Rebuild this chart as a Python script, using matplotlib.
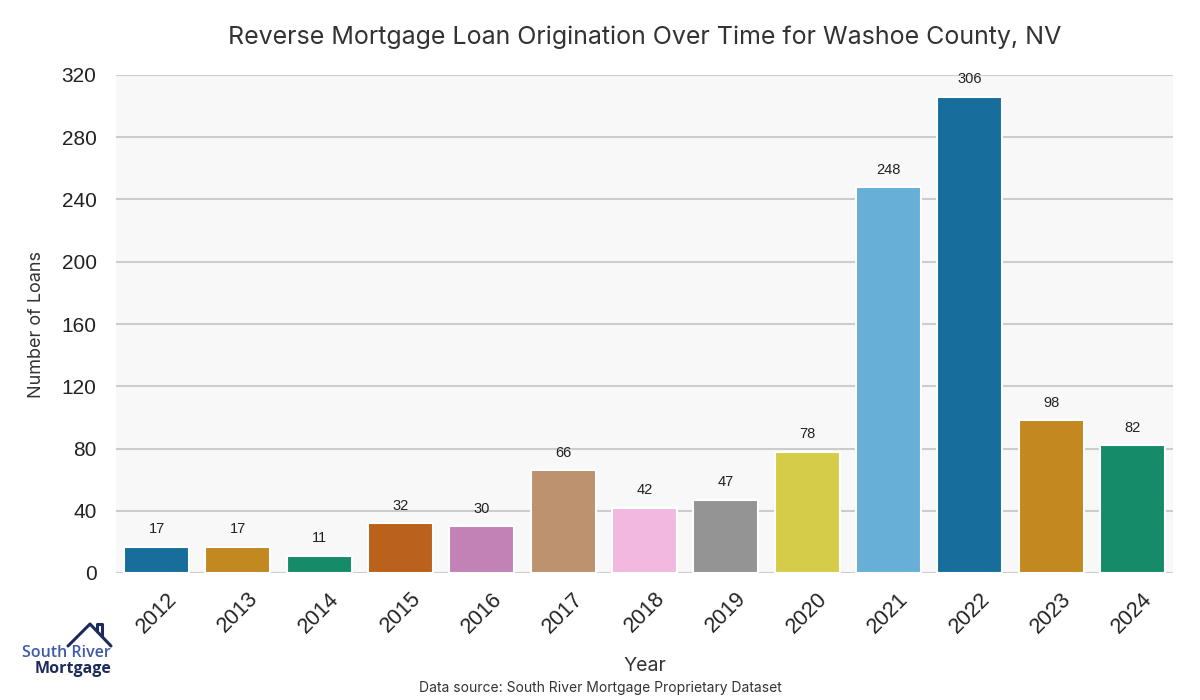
import matplotlib
matplotlib.use("Agg")
import matplotlib.pyplot as plt
import seaborn as sns
import pandas as pd

years = ["2012", "2013", "2014", "2015", "2016", "2017", "2018",
         "2019", "2020", "2021", "2022", "2023", "2024"]
loans = [17, 17, 11, 32, 30, 66, 42, 47, 78, 248, 306, 98, 82]
yticks = [0, 40, 80, 120, 160, 200, 240, 280, 320]

df = pd.DataFrame({"Year": years, "Loans": loans})

sns.set_style("whitegrid")
plt.rcParams["font.family"] = ["Liberation Sans", "DejaVu Sans"]

fig = plt.figure(figsize=(12, 7), dpi=100)
ax = fig.add_axes([116 / 1200, 1 - 573 / 700, (1173 - 116) / 1200, (573 - 75) / 700])
ax.set_facecolor("#f8f8f8")

sns.barplot(data=df, x="Year", y="Loans", hue="Year", palette="colorblind",
            legend=False, ax=ax, edgecolor="white", linewidth=1.5, width=0.8)

# value labels above each bar
for i, v in enumerate(loans):
    ax.annotate(str(v), (i, v), xytext=(0, 7.5), textcoords="offset points",
                ha="center", va="bottom", fontsize=10.5, color="#222222",
                annotation_clip=False)

ax.set_ylim(0, 320)
ax.set_xlim(-0.5, len(years) - 0.5)
ax.set_yticks(yticks)
ax.yaxis.grid(True, color="#cccccc", linewidth=1.5)
ax.xaxis.grid(False)
for s in ax.spines.values():
    s.set_visible(False)
ax.tick_params(axis="y", labelsize=15, colors="#222222", length=0, pad=14)
ax.tick_params(axis="x", labelsize=15.5, colors="#222222", length=0, pad=11)
plt.setp(ax.get_xticklabels(), rotation=45, ha="center")
ax.set_axisbelow(True)

jak = ["Inter", "DejaVu Sans"]
ax.set_title("Reverse Mortgage Loan Origination Over Time for Washoe County, NV",
             fontsize=18, color="#333333", family=jak, pad=22)
ax.set_ylabel("Number of Loans", fontsize=13, color="#333333", family=jak, labelpad=12)
ax.set_xlabel("Year", fontsize=14, color="#333333", family=jak, labelpad=14)
fig.text(0.5, 0.012, "Data source: South River Mortgage Proprietary Dataset",
         ha="center", fontsize=10, color="#333333", family=jak)

# logo
logo_font = ["Open Sans", "DejaVu Sans"]
fig.text(111 / 1200, 1 - 653 / 700, "South River", ha="right", va="center",
         fontsize=11.5, fontweight="semibold", color="#3f5aa8", family=logo_font)
fig.text(111 / 1200, 1 - 669 / 700, "Mortgage", ha="right", va="center",
         fontsize=11.5, fontweight="bold", color="#1f2a5c", family=logo_font)
roof_x = [68 / 1200, 90 / 1200, 111 / 1200]
roof_y = [1 - 646 / 700, 1 - 624 / 700, 1 - 646 / 700]
fig.lines.append(plt.Line2D(roof_x, roof_y, transform=fig.transFigure,
                            color="#1f2a5c", linewidth=2.2))
chim_x = [97 / 1200, 97 / 1200, 102 / 1200, 102 / 1200]
chim_y = [1 - 631 / 700, 1 - 624 / 700, 1 - 624 / 700, 1 - 636 / 700]
fig.lines.append(plt.Line2D(chim_x, chim_y, transform=fig.transFigure,
                            color="#1f2a5c", linewidth=2.2))

fig.savefig("out.png", dpi=100)
